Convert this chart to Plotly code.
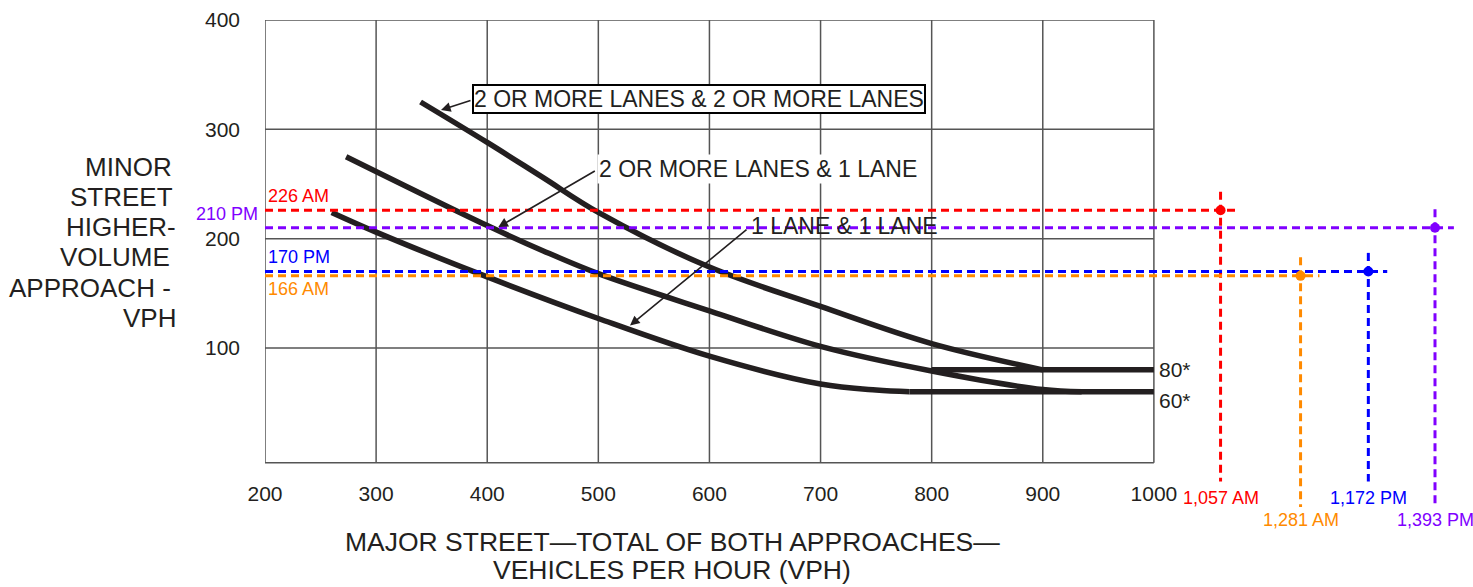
import plotly.graph_objects as go

# ---------------- data ----------------
major_ticks = [200, 300, 400, 500, 600, 700, 800, 900, 1000]
minor_ticks = [100, 200, 300, 400]

# curve: 2 OR MORE LANES & 2 OR MORE LANES
c22_x = [340, 400, 450, 500, 600, 700, 800, 900]
c22_y = [325, 288, 256, 224, 174, 138, 104, 80]
# curve: 2 OR MORE LANES & 1 LANE
c21_x = [273, 400, 450, 500, 600, 700, 800, 900, 935]
c21_y = [275, 212, 189, 168, 134, 101.5, 79, 62, 60]
# curve: 1 LANE & 1 LANE
c11_x = [260, 300, 400, 500, 600, 700, 750, 780]
c11_y = [224, 206, 165, 127, 92.5, 67, 61.5, 60]
# flat minimum lines
flat80_x = [800, 1000]
flat80_y = [80, 80]
flat60_x = [780, 1000]
flat60_y = [60, 60]

# observed counts
obs_minor = [226, 210, 170, 166]
obs_minor_labels = ["226 AM", "210 PM", "170 PM", "166 AM"]
obs_major = [1057, 1393, 1172, 1281]
obs_major_labels = ["1,057 AM", "1,393 PM", "1,172 PM", "1,281 AM"]
obs_plot_x = [1060, 1253, 1193, 1132]     # where the chart places each point (not to scale)
obs_colors = ["#ff0000", "#8000ff", "#0000ff", "#ff8a00"]
obs_row = [1, 2, 1, 2]                     # label row below chart

y_title_lines = ["MINOR", "STREET", "HIGHER-", "VOLUME", "APPROACH -", "VPH"]
x_title_lines = ["MAJOR STREET\u2014TOTAL OF BOTH APPROACHES\u2014", "VEHICLES PER HOUR (VPH)"]

INK = "#231f20"
GRID = "#555555"
FONT = "Liberation Sans, Arial, sans-serif"

# layout geometry (pixels)
W, H = 1473, 587
ML, MR, MT, MB = 265, 8, 17, 75
PW, PH = W - ML - MR, H - MT - MB
Y0, Y1 = -50, 400


def py(v):
    """data y -> paper fraction"""
    return (v - Y0) / (Y1 - Y0)


def ppx(px):
    return (px - ML) / PW


def ppy(px):
    return (MT + PH - px) / PH


fig = go.Figure()

# grid (drawn through the data axes)
bottom = -5
for xv in major_ticks:
    fig.add_shape(type="line", x0=xv, x1=xv, y0=bottom, y1=minor_ticks[-1],
                  line=dict(color=GRID, width=1.5), layer="below")
for yv in [bottom] + minor_ticks:
    fig.add_shape(type="line", x0=major_ticks[0], x1=major_ticks[-1], y0=yv, y1=yv,
                  line=dict(color=GRID, width=1.5), layer="below")

curve_line = dict(color=INK, width=5.5)
for xs, ys, shp in [(c22_x, c22_y, "spline"), (c21_x, c21_y, "spline"), (c11_x, c11_y, "spline"),
                    (flat80_x, flat80_y, "linear"), (flat60_x, flat60_y, "linear")]:
    fig.add_trace(go.Scatter(x=xs, y=ys, mode="lines", line=dict(curve_line, shape=shp, smoothing=1.0),
                             hoverinfo="skip", showlegend=False))

# observation dashed lines and markers
ext_h = 17
row_bottom = {1: -22, 2: -45.5}
row_label = {1: -37.5, 2: -57.5}
lab_size = 18
annotations = []
for yv, xp, col, row, ylab, xlab in zip(obs_minor, obs_plot_x, obs_colors, obs_row,
                                        obs_minor_labels, obs_major_labels):
    dash = dict(color=col, width=3, dash="8px,5px")
    fig.add_trace(go.Scatter(x=[major_ticks[0], xp + ext_h], y=[yv, yv], mode="lines", line=dash,
                             hoverinfo="skip", showlegend=False))
    fig.add_trace(go.Scatter(x=[xp, xp], y=[yv + 17, row_bottom[row]], mode="lines", line=dash,
                             hoverinfo="skip", showlegend=False))
    fig.add_trace(go.Scatter(x=[xp], y=[yv], mode="markers", marker=dict(color=col, size=10),
                             hoverinfo="skip", showlegend=False))
    annotations.append(dict(x=xp, xref="x", y=py(row_label[row]), yref="paper", text=xlab,
                            showarrow=False, font=dict(family=FONT, size=lab_size, color=col),
                            xanchor="center", yanchor="middle"))
    lf = dict(family=FONT, size=lab_size, color=col)
    if yv == 210:
        annotations.append(dict(x=-0.004, xref="paper", y=py(yv), yref="paper", text=ylab,
                                showarrow=False, xanchor="right", yshift=14, font=lf))
    elif yv == 166:
        annotations.append(dict(x=major_ticks[0], y=yv, text=ylab, showarrow=False, xanchor="left",
                                xshift=1, yshift=-13, font=lf))
    else:
        annotations.append(dict(x=major_ticks[0], y=yv, text=ylab, showarrow=False, xanchor="left",
                                xshift=1, yshift=14, font=lf))

# curve labels
lab_font = dict(family=FONT, size=23, color=INK)
annotations += [
    dict(x=590.6, y=327.9, text="2 OR MORE LANES & 2 OR MORE LANES", showarrow=False, font=lab_font,
         bgcolor="white", bordercolor="black", borderwidth=2, borderpad=0),
    dict(x=643.3, y=263.6, text="2 OR MORE LANES & 1 LANE", showarrow=False, font=lab_font,
         bgcolor="white", borderpad=1),
    dict(x=721.1, y=211.5, text="1 LANE & 1 LANE", showarrow=False, font=lab_font),
    dict(x=358.4, y=317.6, text="", showarrow=True, ax=31, ay=-10, arrowhead=2, arrowsize=1.2,
         arrowwidth=1.6, arrowcolor=INK, standoff=0),
    dict(x=410, y=210.6, text="", showarrow=True, ax=98, ay=-57, arrowhead=2, arrowsize=1.2,
         arrowwidth=1.6, arrowcolor=INK, standoff=0),
    dict(x=528.5, y=120.6, text="", showarrow=True, ax=118, ay=-97, arrowhead=2, arrowsize=1.2,
         arrowwidth=1.6, arrowcolor=INK, standoff=0),
    dict(x=1000, y=80, text="80*", showarrow=False, xanchor="left", xshift=3,
         font=dict(family=FONT, size=21, color=INK)),
    dict(x=1000, y=60, text="60*", showarrow=False, xanchor="left", xshift=3, yshift=-9,
         font=dict(family=FONT, size=21, color=INK)),
]

# y-axis title, one annotation per line (right-aligned)
y_right = [174, 175, 178, 172, 173, 178]
for i, (txt, rx) in enumerate(zip(y_title_lines, y_right)):
    annotations.append(dict(x=ppx(rx), xref="paper", y=ppy(165 + 30.3 * i), yref="paper", text=txt,
                            showarrow=False, xanchor="right", yanchor="middle",
                            font=dict(family=FONT, size=26, color=INK)))
# x-axis title
for i, txt in enumerate(x_title_lines):
    annotations.append(dict(x=ppx(672), xref="paper", y=ppy(542 + 28.5 * i), yref="paper", text=txt,
                            showarrow=False, xanchor="center", yanchor="middle",
                            font=dict(family=FONT, size=26.5, color=INK)))

fig.update_layout(
    width=W, height=H,
    margin=dict(l=ML, r=MR, t=MT, b=MB),
    paper_bgcolor="white", plot_bgcolor="white",
    showlegend=False,
    annotations=annotations,
    xaxis=dict(range=[200, 1280], tickvals=major_ticks, ticktext=[str(v) for v in major_ticks],
               showgrid=False, zeroline=False, showline=False, ticks="",
               anchor="free", position=py(0), ticklabelstandoff=22,
               tickfont=dict(family=FONT, size=21, color=INK)),
    yaxis=dict(range=[Y0, Y1], tickvals=minor_ticks, ticktext=[str(v) for v in minor_ticks],
               showgrid=False, zeroline=False, showline=False, ticks="", ticklabelstandoff=24,
               tickfont=dict(family=FONT, size=21, color=INK)),
)

fig.write_html("out.html", config={"displayModeBar": False},
               post_script="document.body.style.margin='0';document.body.style.overflow='hidden';")
